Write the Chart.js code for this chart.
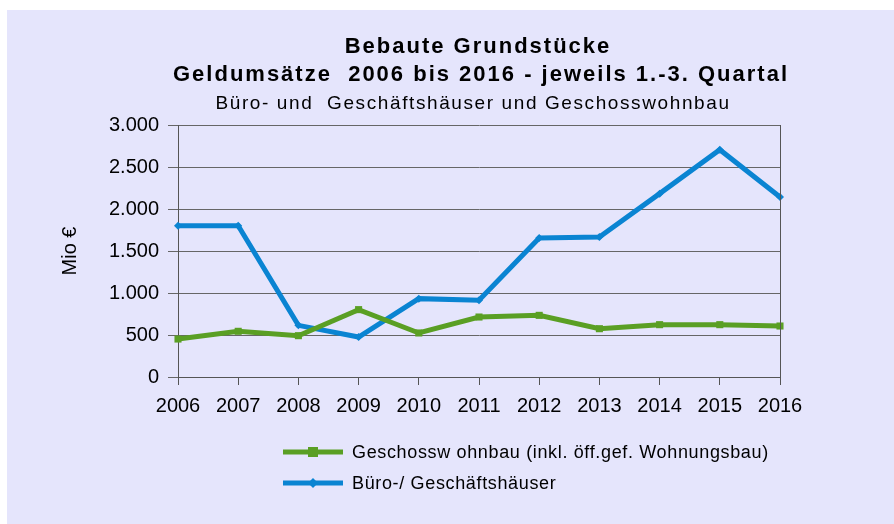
<!DOCTYPE html>
<html>
<head>
<meta charset="utf-8">
<script src="https://cdn.jsdelivr.net/npm/chart.js@4.4.1/dist/chart.umd.min.js"></script>
<style>
  body { margin: 0; background: #ffffff; }
  #frame { position: absolute; left: 7px; top: 10px; width: 887px; height: 514px; background: #e5e5fc; }
  canvas { display: block; }
</style>
</head>
<body>
<div id="frame"><canvas id="chart" width="887" height="514"></canvas></div>
<script>
// --- Data ---
const years = ['2006', '2007', '2008', '2009', '2010', '2011', '2012', '2013', '2014', '2015', '2016'];
const geschosswohnbau = [452, 544, 492, 802, 524, 714, 734, 575, 623, 623, 607];
const bueroGeschaeft = [1800, 1800, 615, 476, 933, 913, 1655, 1667, 2183, 2706, 2143];

const titleLines = ['Bebaute Grundstücke', 'Geldumsätze  2006 bis 2016 - jeweils 1.-3. Quartal'];
const subtitleText = 'Büro- und  Geschäftshäuser und Geschosswohnbau';
const seriesLabels = ['Geschossw ohnbau (inkl. öff.gef. Wohnungsbau)', 'Büro-/ Geschäftshäuser'];

const GREEN = '#5a9f24';
const BLUE = '#0a84d2';
const FONT = '"Liberation Sans", Arial, sans-serif';

// --- Titles, right border and legend drawn on the canvas ---
const decorPlugin = {
    id: 'decor',
    afterDraw(chart) {
        const ctx = chart.ctx;
        const area = chart.chartArea;
        ctx.save();

        // right border of the plot
        ctx.strokeStyle = '#555555';
        ctx.lineWidth = 1;
        ctx.beginPath();
        ctx.moveTo(Math.round(area.right) + 0.5, area.top);
        ctx.lineTo(Math.round(area.right) + 0.5, area.bottom);
        ctx.stroke();

        // titles
        ctx.fillStyle = '#000000';
        ctx.textAlign = 'center';
        ctx.textBaseline = 'middle';
        ctx.font = 'bold 22px ' + FONT;
        ctx.letterSpacing = '2px';
        ctx.fillText(titleLines[0], 471, 37);
        ctx.fillText(titleLines[1], 474, 65);
        ctx.font = '19px ' + FONT;
        ctx.letterSpacing = '1.6px';
        ctx.fillText(subtitleText, 466, 94);
        ctx.letterSpacing = '0px';

        // legend
        const items = [
            { label: seriesLabels[0], color: GREEN, style: 'square', y: 442 },
            { label: seriesLabels[1], color: BLUE, style: 'diamond', y: 473 }
        ];
        items.forEach(item => {
            ctx.strokeStyle = item.color;
            ctx.fillStyle = item.color;
            ctx.lineWidth = 5;
            ctx.beginPath();
            ctx.moveTo(276, item.y);
            ctx.lineTo(336, item.y);
            ctx.stroke();
            if (item.style === 'square') {
                ctx.fillRect(301, item.y - 5, 10, 10);
            } else {
                ctx.beginPath();
                ctx.moveTo(306, item.y - 5);
                ctx.lineTo(311, item.y);
                ctx.lineTo(306, item.y + 5);
                ctx.lineTo(301, item.y);
                ctx.closePath();
                ctx.fill();
            }
            ctx.fillStyle = '#000000';
            ctx.textAlign = 'left';
            ctx.font = '18px ' + FONT;
            ctx.letterSpacing = '0.65px';
            ctx.fillText(item.label, 345, item.y + 1);
            ctx.letterSpacing = '0px';
        });
        ctx.restore();
    }
};

const chart = new Chart(document.getElementById('chart').getContext('2d'), {
    type: 'line',
    data: {
        labels: years,
        datasets: [{
            label: seriesLabels[0],
            data: geschosswohnbau,
            borderColor: GREEN,
            backgroundColor: GREEN,
            borderWidth: 5,
            pointStyle: 'rect',
            pointRadius: 5,
            pointBorderWidth: 0,
            tension: 0
        }, {
            label: seriesLabels[1],
            data: bueroGeschaeft,
            borderColor: BLUE,
            backgroundColor: BLUE,
            borderWidth: 5,
            pointStyle: 'rectRot',
            pointRadius: 4,
            pointBorderWidth: 0,
            tension: 0
        }]
    },
    options: {
        responsive: false,
        animation: false,
        layout: { padding: { top: 115, right: 114, left: 0, bottom: 0 } },
        plugins: {
            legend: { display: false },
            title: { display: false },
            tooltip: { enabled: false }
        },
        scales: {
            x: {
                offset: false,
                afterFit: s => { s.height = 147; },
                grid: { drawOnChartArea: false, drawTicks: true, tickLength: 8, color: '#555555' },
                border: { color: '#555555', width: 1 },
                ticks: { color: '#000000', font: { family: FONT, size: 20 }, padding: 9, maxRotation: 0 }
            },
            y: {
                min: 0,
                max: 3000,
                afterFit: s => { s.width = 171; },
                grid: { color: '#666666', tickLength: 10, lineWidth: 1 },
                border: { color: '#555555', width: 1 },
                ticks: {
                    stepSize: 500,
                    color: '#000000',
                    font: { family: FONT, size: 20 },
                    padding: 9,
                    callback: v => v.toLocaleString('de-DE')
                },
                title: {
                    display: true,
                    text: 'Mio €',
                    color: '#000000',
                    font: { family: FONT, size: 20 },
                    padding: { top: 51, bottom: 0 }
                }
            }
        }
    },
    plugins: [decorPlugin]
});
</script>
</body>
</html>
